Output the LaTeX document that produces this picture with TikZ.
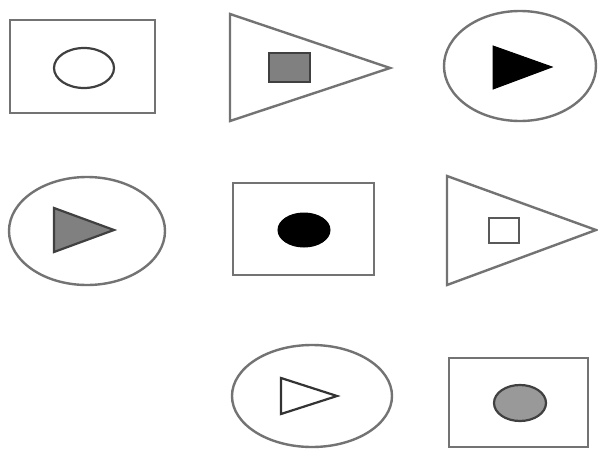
\documentclass[tikz,border=0pt]{standalone}
\begin{document}
\begin{tikzpicture}[x=1pt,y=-1pt,
  outer/.style={draw=black!55,line width=2.4pt},
  inner/.style={draw=black!75,line width=2.2pt},
  darkfill/.style={inner,fill=black!50},
  solid/.style={fill=black,draw=black,line width=1pt}]
\useasboundingbox[fill=white] (0,0) rectangle (598,450);
% Row 1
\draw[outer] (10,20) rectangle (155,113);
\draw[inner] (84,68) ellipse [x radius=30,y radius=20];
\draw[outer] (230,14) -- (390,68) -- (230,121) -- cycle;
\draw[darkfill] (269,53) rectangle (310,82);
\draw[outer] (520,66) ellipse [x radius=76,y radius=55];
\draw[solid] (493,46) -- (552,67) -- (493,89) -- cycle;
% Row 2
\draw[outer] (87,231) ellipse [x radius=78,y radius=54];
\draw[darkfill] (54,208) -- (114,230) -- (54,252) -- cycle;
\draw[outer] (233,183) rectangle (374,275);
\draw[solid] (304,230) ellipse [x radius=26,y radius=17];
\draw[outer] (447,176) -- (596,230) -- (447,285) -- cycle;
\draw[inner,draw=black!65] (489,218) rectangle (519,243);
% Row 3
\draw[outer] (312,396) ellipse [x radius=80,y radius=51];
\draw[inner,draw=black!80] (281,378) -- (337,396) -- (281,414) -- cycle;
\draw[outer] (449,358) rectangle (588,447);
\draw[inner,fill=black!40] (520,403) ellipse [x radius=26,y radius=18];
\end{tikzpicture}
\end{document}
